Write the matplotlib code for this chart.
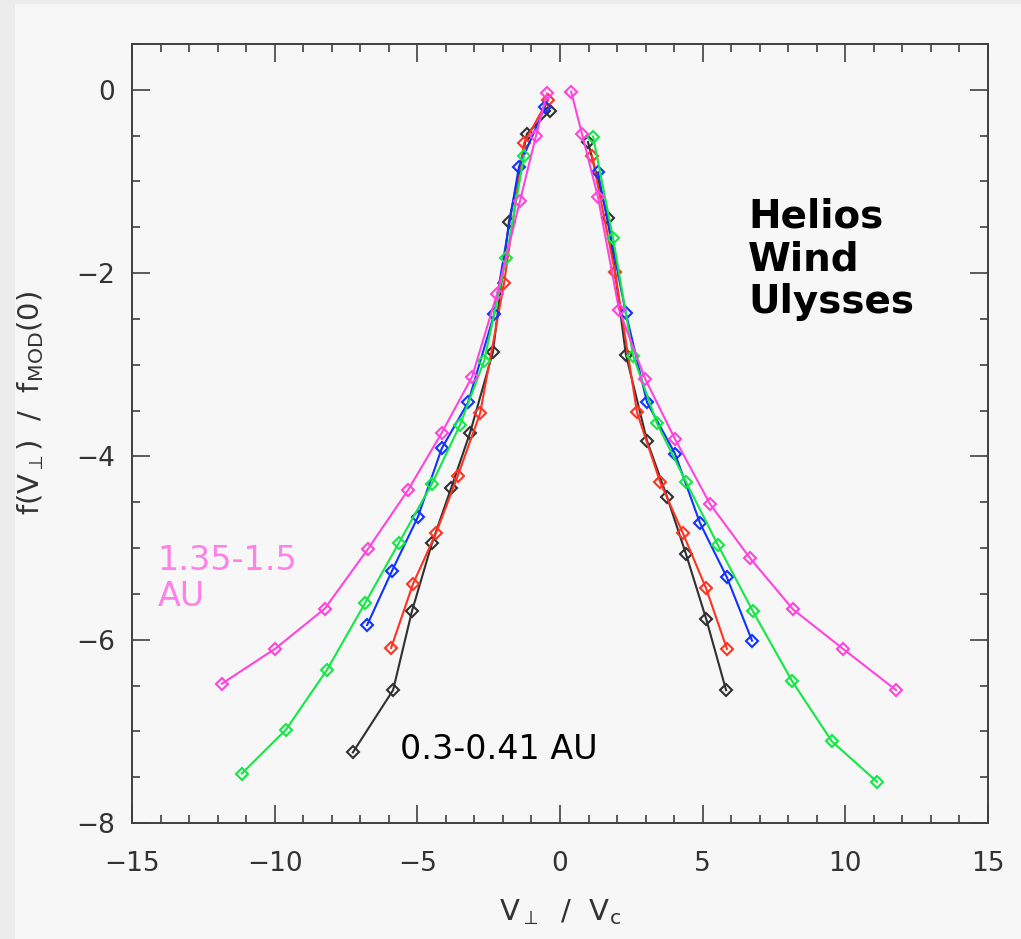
import numpy as np
import matplotlib.pyplot as plt
from matplotlib.patches import Rectangle
from matplotlib.ticker import MultipleLocator

plt.rcParams['font.family'] = ['DejaVu Sans']
plt.rcParams['mathtext.fontset'] = 'dejavusans'

# values; each series has a left (v < 0) and right (v > 0) branch
black_left_x = [-7.26, -5.85, -5.19, -4.49, -3.82, -3.15, -2.35, -1.79, -1.16, -0.35]
black_left_y = [-7.23, -6.55, -5.69, -4.95, -4.35, -3.74, -2.86, -1.44, -0.48, -0.23]
black_right_x = [0.98, 1.68, 2.31, 3.05, 3.75, 4.42, 5.12, 5.82]
black_right_y = [-0.57, -1.40, -2.89, -3.83, -4.44, -5.07, -5.77, -6.55]

red_left_x = [-5.92, -5.15, -4.35, -3.58, -2.80, -1.96, -1.26, -0.42]
red_left_y = [-6.09, -5.39, -4.84, -4.21, -3.53, -2.11, -0.58, -0.11]
red_right_x = [1.12, 1.93, 2.70, 3.51, 4.31, 5.12, 5.85]
red_right_y = [-0.72, -1.99, -3.52, -4.28, -4.84, -5.44, -6.10]

blue_left_x = [-6.76, -5.89, -4.98, -4.14, -3.22, -2.31, -1.44, -0.53]
blue_left_y = [-5.84, -5.25, -4.66, -3.91, -3.41, -2.45, -0.84, -0.19]
blue_right_x = [1.33, 2.31, 3.05, 4.03, 4.91, 5.85, 6.73]
blue_right_y = [-0.90, -2.44, -3.41, -3.97, -4.73, -5.32, -6.01]

green_left_x = [-11.15, -9.60, -8.17, -6.83, -5.64, -4.49, -3.51, -2.66, -1.89, -1.26]
green_left_y = [-7.46, -6.98, -6.33, -5.60, -4.94, -4.30, -3.66, -2.96, -1.84, -0.72]
green_right_x = [1.16, 1.86, 2.56, 3.40, 4.42, 5.54, 6.76, 8.13, 9.53, 11.11]
green_right_y = [-0.51, -1.62, -2.90, -3.64, -4.28, -4.97, -5.69, -6.45, -7.11, -7.55]

pink_left_x = [-11.85, -9.99, -8.24, -6.73, -5.33, -4.14, -3.08, -2.21, -1.40, -0.84, -0.46]
pink_left_y = [-6.48, -6.10, -5.66, -5.01, -4.37, -3.74, -3.13, -2.23, -1.21, -0.50, -0.04]
pink_right_x = [0.39, 0.77, 1.33, 2.07, 2.98, 4.03, 5.26, 6.66, 8.17, 9.92, 11.78]
pink_right_y = [-0.02, -0.48, -1.17, -2.40, -3.15, -3.81, -4.52, -5.11, -5.67, -6.10, -6.55]

series = [
    ('#303030', black_left_x, black_left_y, black_right_x, black_right_y),
    ('#ff3322', red_left_x, red_left_y, red_right_x, red_right_y),
    ('#1133ff', blue_left_x, blue_left_y, blue_right_x, blue_right_y),
    ('#11e844', green_left_x, green_left_y, green_right_x, green_right_y),
    ('#ff44dd', pink_left_x, pink_left_y, pink_right_x, pink_right_y),
]

fig = plt.figure(figsize=(10.21, 9.39), dpi=100, facecolor='#f7f7f7')
# grey frame strips at left and top of the screenshot
fig.patches.append(Rectangle((0, 0), 15 / 1021, 1, transform=fig.transFigure,
                             facecolor='#ececec', edgecolor='none', zorder=0))
fig.patches.append(Rectangle((0, 1 - 4 / 939), 1, 4 / 939, transform=fig.transFigure,
                             facecolor='#ececec', edgecolor='none', zorder=0))

ax = fig.add_axes([132 / 1021, 1 - 823 / 939, 856 / 1021, 779 / 939])
ax.set_facecolor('#f7f7f7')

for color, lx, ly, rx, ry in series:
    for xs, ys in ((lx, ly), (rx, ry)):
        ax.plot(xs, ys, color=color, lw=1.5, marker='D', ms=6.5, mfc='none',
                mec=color, mew=1.5)

ax.set_xlim(-15, 15)
ax.set_ylim(-8, 0.5)
ax.xaxis.set_major_locator(MultipleLocator(5))
ax.xaxis.set_minor_locator(MultipleLocator(1))
ax.yaxis.set_major_locator(MultipleLocator(2))
ax.yaxis.set_minor_locator(MultipleLocator(0.5))
ax.tick_params(which='both', direction='in', top=True, right=True,
               color='#404040', width=1.2)
ax.tick_params(which='major', length=13, labelsize=19, labelcolor='#333333')
ax.tick_params(which='minor', length=6)
ax.tick_params(axis='x', which='major', pad=20)
ax.tick_params(axis='y', which='major', pad=12)
for sp in ax.spines.values():
    sp.set_color('#404040')
    sp.set_linewidth(1.4)

ax.set_xlabel(r'V$_{\perp}$  /  V$_{\mathrm{c}}$', fontsize=21, color='#333333')
ax.xaxis.set_label_coords(0.5, -0.095)
ax.set_ylabel(r'f(V$_{\perp}$)  /  f$_{\mathrm{MOD}}$(0)', fontsize=21, color='#333333')
ax.yaxis.set_label_coords(-0.1, 0.54)

ax.text(6.59, -1.18, 'Helios\nWind\nUlysses', fontsize=28, fontweight='bold',
        color='black', va='top', ha='left', linespacing=1.15)
ax.text(-14.1, -4.96, '1.35-1.5\nAU', fontsize=24, color='#ff80e8',
        va='top', ha='left', linespacing=1.1)
ax.text(-5.6, -7.02, '0.3-0.41 AU', fontsize=24, color='black',
        va='top', ha='left')

fig.savefig('out.png', dpi=100, facecolor=fig.get_facecolor())
